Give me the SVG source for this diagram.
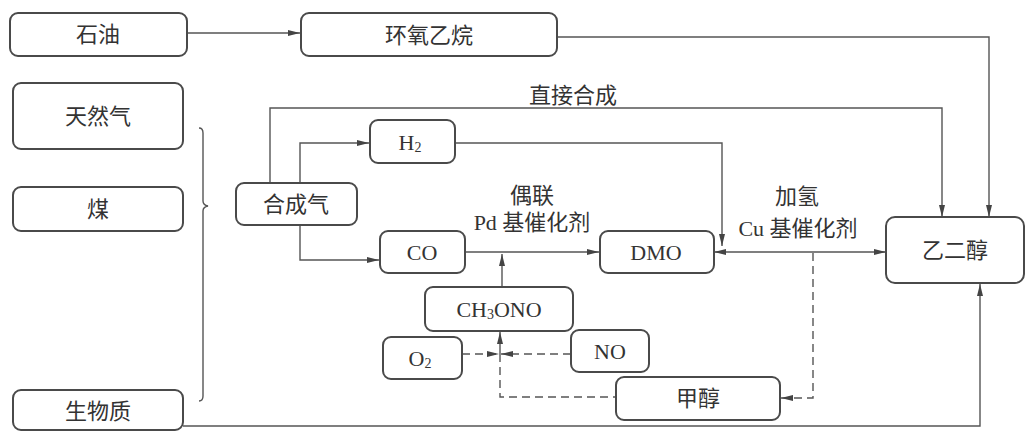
<svg xmlns="http://www.w3.org/2000/svg" width="1026" height="431" viewBox="0 0 1026 431">
<style>
.box{fill:#fff;stroke:#4a4a4a;stroke-width:2}
.ln{fill:none;stroke:#555;stroke-width:1.4}
.dash{fill:none;stroke:#555;stroke-width:1.4;stroke-dasharray:8,5}
text{font-family:"Liberation Serif","Noto Sans CJK SC",serif;font-size:22px;fill:#333;text-anchor:middle;dominant-baseline:central}
.sub{font-size:14px}
</style>
<defs>
<marker id="ah" viewBox="0 0 12 6" refX="12" refY="3" markerWidth="12" markerHeight="6" markerUnits="userSpaceOnUse" orient="auto-start-reverse">
<path d="M0,0 L12,3 L0,6 Z" fill="#444"/>
</marker>
</defs>
<rect width="1026" height="431" fill="#fff"/>
<g id="connectors">
<path class="ln" d="M187,33 H300" marker-end="url(#ah)"/>
<path class="ln" d="M557,37 H989 V217" marker-end="url(#ah)"/>
<path class="ln" d="M270,183 V108 H942 V217" marker-end="url(#ah)"/>
<path class="ln" d="M300,183 V143 H369" marker-end="url(#ah)"/>
<path class="ln" d="M455,143 H722 V246" marker-end="url(#ah)"/>
<path class="ln" d="M300,225 V260 H379" marker-end="url(#ah)"/>
<path class="ln" d="M465,252 H599" marker-end="url(#ah)"/>
<path class="ln" d="M502,287 V254" marker-end="url(#ah)"/>
<path class="ln" d="M714,252 H886" marker-start="url(#ah)" marker-end="url(#ah)"/>
<path class="ln" d="M183,426 H980 V284" marker-end="url(#ah)"/>
<path class="ln" d="M500,354 V332" marker-end="url(#ah)"/>
<path class="dash" d="M462,354 H499" marker-end="url(#ah)"/>
<path class="dash" d="M571,354 H501" marker-end="url(#ah)"/>
<path class="dash" d="M500,354 V397 H616"/>
<path class="dash" d="M813,253 V398 H781" marker-end="url(#ah)"/>
<path class="ln" d="M199,128 Q203,128 203,133 L203,201 Q203,205 208,206 Q203,207 203,211 L203,396 Q203,401 199,401"/>
</g>
<g id="n-shiyou"><rect class="box" x="10" y="13" width="177" height="43" rx="8"/><text x="98" y="34">石油</text></g>
<g id="n-huanyang"><rect class="box" x="301" y="13" width="256" height="43" rx="8"/><text x="429" y="35">环氧乙烷</text></g>
<g id="n-tianranqi"><rect class="box" x="13" y="83" width="170" height="66" rx="8"/><text x="98" y="116">天然气</text></g>
<g id="n-mei"><rect class="box" x="13" y="187" width="170" height="44" rx="8"/><text x="98" y="209">煤</text></g>
<g id="n-shengwuzhi"><rect class="box" x="13" y="390" width="170" height="40" rx="8"/><text x="98" y="411">生物质</text></g>
<g id="n-hechengqi"><rect class="box" x="236" y="183" width="121" height="42" rx="8"/><text x="296" y="204">合成气</text></g>
<g id="n-h2"><rect class="box" x="370" y="120" width="85" height="43" rx="8"/><text x="410" y="142">H<tspan class="sub" dy="5">2</tspan></text></g>
<g id="n-co"><rect class="box" x="380" y="231" width="85" height="42" rx="8"/><text x="422" y="252">CO</text></g>
<g id="n-dmo"><rect class="box" x="600" y="231" width="114" height="42" rx="8"/><text x="656" y="252">DMO</text></g>
<g id="n-yierchun"><rect class="box" x="886" y="217" width="138" height="66" rx="9"/><text x="955" y="250">乙二醇</text></g>
<g id="n-ch3ono"><rect class="box" x="425" y="287" width="148" height="44" rx="8"/><text x="499" y="309">CH<tspan class="sub" dy="5">3</tspan><tspan dy="-5">ONO</tspan></text></g>
<g id="n-o2"><rect class="box" x="383" y="337" width="79" height="42" rx="8"/><text x="420" y="358">O<tspan class="sub" dy="5">2</tspan></text></g>
<g id="n-no"><rect class="box" x="571" y="330" width="78" height="42" rx="8"/><text x="610" y="351">NO</text></g>
<g id="n-jiachun"><rect class="box" x="616" y="377" width="164" height="43" rx="8"/><text x="698" y="398">甲醇</text></g>
<g id="labels">
<text x="573" y="95">直接合成</text>
<text x="532" y="195">偶联</text>
<text x="532" y="222">Pd 基催化剂</text>
<text x="797" y="196">加氢</text>
<text x="798" y="228">Cu 基催化剂</text>
</g>
</svg>
